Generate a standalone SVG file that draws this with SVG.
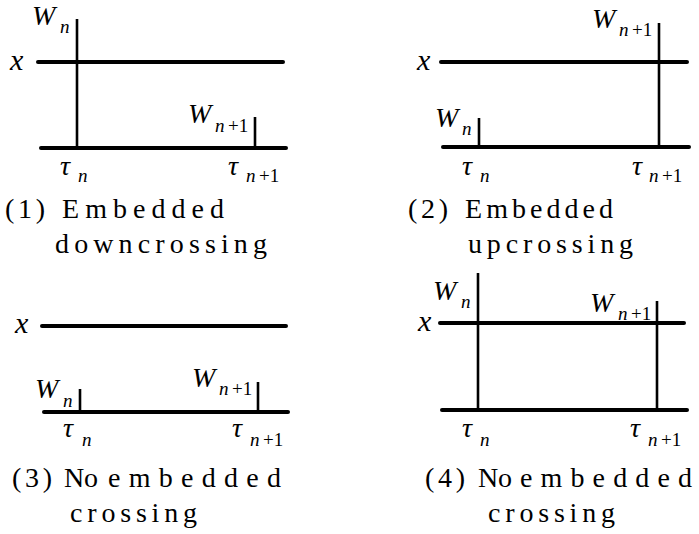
<svg xmlns="http://www.w3.org/2000/svg" width="699" height="534" viewBox="0 0 699 534">
<rect width="699" height="534" fill="#ffffff"/>
<line x1="38" y1="62" x2="283" y2="62" stroke="#000" stroke-width="4" stroke-linecap="round"/>
<line x1="41" y1="148" x2="286" y2="148" stroke="#000" stroke-width="4" stroke-linecap="round"/>
<line x1="441" y1="62" x2="687" y2="62" stroke="#000" stroke-width="4" stroke-linecap="round"/>
<line x1="443" y1="147" x2="689" y2="147" stroke="#000" stroke-width="4" stroke-linecap="round"/>
<line x1="42" y1="326" x2="286" y2="326" stroke="#000" stroke-width="4" stroke-linecap="round"/>
<line x1="44" y1="412" x2="288" y2="412" stroke="#000" stroke-width="4" stroke-linecap="round"/>
<line x1="440" y1="323" x2="684" y2="323" stroke="#000" stroke-width="4" stroke-linecap="round"/>
<line x1="442" y1="410" x2="687" y2="410" stroke="#000" stroke-width="4" stroke-linecap="round"/>
<line x1="77" y1="19" x2="77" y2="148" stroke="#000" stroke-width="2.6"/>
<line x1="255" y1="117" x2="255" y2="148" stroke="#000" stroke-width="2.6"/>
<line x1="659" y1="23" x2="659" y2="147" stroke="#000" stroke-width="2.6"/>
<line x1="479" y1="118" x2="479" y2="147" stroke="#000" stroke-width="2.6"/>
<line x1="80" y1="389" x2="80" y2="412" stroke="#000" stroke-width="2.6"/>
<line x1="258" y1="382" x2="258" y2="412" stroke="#000" stroke-width="2.6"/>
<line x1="478" y1="273" x2="478" y2="410" stroke="#000" stroke-width="2.6"/>
<line x1="657" y1="301" x2="657" y2="410" stroke="#000" stroke-width="2.6"/>

<text x="10" y="70" font-family="Liberation Serif" font-style="italic" font-size="30">x</text>
<text x="32" y="25" font-family="Liberation Serif" font-style="italic" font-size="28">W</text>
<text x="60" y="33" font-family="Liberation Serif" font-style="italic" font-size="19">n</text>
<text x="188" y="123" font-family="Liberation Serif" font-style="italic" font-size="28">W</text>
<text x="215" y="132" font-family="Liberation Serif" font-style="italic" font-size="19">n</text>
<text x="228" y="132" font-family="Liberation Serif" font-size="19">+1</text>
<text x="60" y="175" font-family="Liberation Serif" font-style="italic" font-size="28">τ</text>
<text x="78" y="182" font-family="Liberation Serif" font-style="italic" font-size="19">n</text>
<text x="228" y="175" font-family="Liberation Serif" font-style="italic" font-size="28">τ</text>
<text x="246" y="182" font-family="Liberation Serif" font-style="italic" font-size="19">n</text>
<text x="259" y="182" font-family="Liberation Serif" font-size="19">+1</text>
<text x="5" y="218" font-family="Liberation Serif" font-size="28" textLength="40" lengthAdjust="spacing">(1)</text>
<text x="62" y="218" font-family="Liberation Serif" font-size="28" textLength="162" lengthAdjust="spacing">Embedded</text>
<text x="55" y="253" font-family="Liberation Serif" font-size="28" textLength="212" lengthAdjust="spacing">downcrossing</text>

<text x="417" y="70" font-family="Liberation Serif" font-style="italic" font-size="30">x</text>
<text x="435" y="127" font-family="Liberation Serif" font-style="italic" font-size="28">W</text>
<text x="462" y="135" font-family="Liberation Serif" font-style="italic" font-size="19">n</text>
<text x="592" y="28" font-family="Liberation Serif" font-style="italic" font-size="28">W</text>
<text x="619" y="36" font-family="Liberation Serif" font-style="italic" font-size="19">n</text>
<text x="632" y="36" font-family="Liberation Serif" font-size="19">+1</text>
<text x="462" y="175" font-family="Liberation Serif" font-style="italic" font-size="28">τ</text>
<text x="480" y="182" font-family="Liberation Serif" font-style="italic" font-size="19">n</text>
<text x="632" y="175" font-family="Liberation Serif" font-style="italic" font-size="28">τ</text>
<text x="649" y="182" font-family="Liberation Serif" font-style="italic" font-size="19">n</text>
<text x="662" y="182" font-family="Liberation Serif" font-size="19">+1</text>
<text x="408" y="218" font-family="Liberation Serif" font-size="28" textLength="40" lengthAdjust="spacing">(2)</text>
<text x="465" y="218" font-family="Liberation Serif" font-size="28" textLength="148" lengthAdjust="spacing">Embedded</text>
<text x="468" y="253" font-family="Liberation Serif" font-size="28" textLength="165" lengthAdjust="spacing">upcrossing</text>

<text x="15" y="333" font-family="Liberation Serif" font-style="italic" font-size="30">x</text>
<text x="35" y="398" font-family="Liberation Serif" font-style="italic" font-size="28">W</text>
<text x="63" y="407" font-family="Liberation Serif" font-style="italic" font-size="19">n</text>
<text x="192" y="387" font-family="Liberation Serif" font-style="italic" font-size="28">W</text>
<text x="219" y="395" font-family="Liberation Serif" font-style="italic" font-size="19">n</text>
<text x="232" y="395" font-family="Liberation Serif" font-size="19">+1</text>
<text x="63" y="437" font-family="Liberation Serif" font-style="italic" font-size="28">τ</text>
<text x="82" y="446" font-family="Liberation Serif" font-style="italic" font-size="19">n</text>
<text x="232" y="437" font-family="Liberation Serif" font-style="italic" font-size="28">τ</text>
<text x="250" y="446" font-family="Liberation Serif" font-style="italic" font-size="19">n</text>
<text x="263" y="446" font-family="Liberation Serif" font-size="19">+1</text>
<text x="12" y="487" font-family="Liberation Serif" font-size="28" textLength="40" lengthAdjust="spacing">(3)</text>
<text x="64" y="487" font-family="Liberation Serif" font-size="28" textLength="34" lengthAdjust="spacing">No</text>
<text x="108" y="487" font-family="Liberation Serif" font-size="28" textLength="173" lengthAdjust="spacing">embedded</text>
<text x="70" y="522" font-family="Liberation Serif" font-size="28" textLength="127" lengthAdjust="spacing">crossing</text>

<text x="418" y="331" font-family="Liberation Serif" font-style="italic" font-size="30">x</text>
<text x="433" y="300" font-family="Liberation Serif" font-style="italic" font-size="28">W</text>
<text x="461" y="308" font-family="Liberation Serif" font-style="italic" font-size="19">n</text>
<text x="590" y="312" font-family="Liberation Serif" font-style="italic" font-size="28">W</text>
<text x="618" y="320" font-family="Liberation Serif" font-style="italic" font-size="19">n</text>
<text x="631" y="320" font-family="Liberation Serif" font-size="19">+1</text>
<text x="462" y="437" font-family="Liberation Serif" font-style="italic" font-size="28">τ</text>
<text x="480" y="446" font-family="Liberation Serif" font-style="italic" font-size="19">n</text>
<text x="630" y="437" font-family="Liberation Serif" font-style="italic" font-size="28">τ</text>
<text x="648" y="446" font-family="Liberation Serif" font-style="italic" font-size="19">n</text>
<text x="661" y="446" font-family="Liberation Serif" font-size="19">+1</text>
<text x="425" y="487" font-family="Liberation Serif" font-size="28" textLength="40" lengthAdjust="spacing">(4)</text>
<text x="478" y="487" font-family="Liberation Serif" font-size="28" textLength="34" lengthAdjust="spacing">No</text>
<text x="520" y="487" font-family="Liberation Serif" font-size="28" textLength="172" lengthAdjust="spacing">embedded</text>
<text x="488" y="522" font-family="Liberation Serif" font-size="28" textLength="127" lengthAdjust="spacing">crossing</text>
</svg>
